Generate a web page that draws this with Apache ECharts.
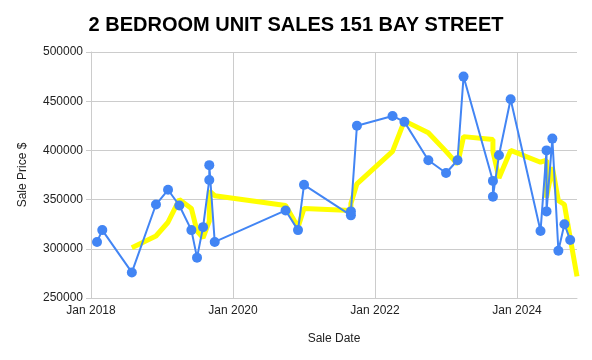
<!DOCTYPE html>
<html>
<head>
<meta charset="utf-8">
<script src="https://cdn.jsdelivr.net/npm/echarts@6/dist/echarts.min.js"></script>
<style>html,body{margin:0;padding:0;background:#fff}#c{width:592px;height:360px}</style>
</head>
<body>
<div id="c"></div>
<script>
const saleDates = ['2018-02-01','2018-02-28','2018-07-30','2018-12-01','2019-02-01','2019-03-31','2019-06-01','2019-06-30','2019-07-31','2019-09-01','2019-09-01','2019-09-29','2020-09-28','2020-12-01','2021-01-01','2021-08-30','2021-08-30','2021-09-30','2022-04-01','2022-06-01','2022-10-02','2023-01-01','2023-03-01','2023-04-01','2023-08-30','2023-08-30','2023-09-30','2023-11-29','2024-05-01','2024-06-01','2024-06-01','2024-07-01','2024-08-01','2024-09-01','2024-10-01'];
const salePrices = [307000,319000,276000,345000,360000,344000,319000,291000,322000,370000,385000,307000,339000,319000,365000,334000,338000,425000,435000,429000,390000,377000,390000,475000,369000,353000,395000,452000,318000,400000,338000,412000,298000,325000,309000];
const trendDates = ['2018-07-30','2018-12-01','2019-02-01','2019-03-31','2019-06-01','2019-06-30','2019-07-31','2019-09-01','2019-09-01','2019-09-29','2020-09-28','2020-12-01','2021-01-01','2021-08-30','2021-08-30','2021-09-30','2022-04-01','2022-06-01','2022-10-02','2023-01-01','2023-03-01','2023-04-01','2023-08-30','2023-08-30','2023-09-30','2023-11-29','2024-05-01','2024-06-01','2024-06-01','2024-07-01','2024-08-01','2024-09-01','2024-10-01','2024-11-05'];
const trendValues = [301000,313000,327000,350000,341000,318000,311000,328000,359000,354000,344000,322000,341000,339000,346000,366000,399000,430000,418000,399000,386000,414000,411000,399000,372000,400000,388000,390000,352000,383000,349000,345000,311000,272000];
const xTickLabels = ['Jan 2018','Jan 2020','Jan 2022','Jan 2024'];
const axisStart = '2018-01-01';
const axisEnd = '2024-11-05';

function toYear(s){
  const p = s.split('-').map(Number);
  const d = Date.UTC(p[0], p[1]-1, p[2]);
  const a = Date.UTC(p[0],0,1), b = Date.UTC(p[0]+1,0,1);
  return p[0] + (d-a)/(b-a);
}
const font = "'Liberation Sans', Arial, sans-serif";
const chart = echarts.init(document.getElementById('c'), null, {renderer:'canvas'});
chart.setOption({
  animation:false,
  backgroundColor:'#fff',
  title:{text:'2 BEDROOM UNIT SALES 151 BAY STREET', left:'center', top:10,
    textStyle:{fontFamily:font, fontSize:20, fontWeight:'bold', color:'#000'}},
  grid:{left:91, right:15, top:52, bottom:62},
  xAxis:{type:'value', min:toYear(axisStart), max:toYear(axisEnd), interval:2,
    name:'Sale Date', nameLocation:'middle', nameGap:35,
    nameTextStyle:{fontFamily:font, fontSize:12, color:'#222'},
    axisLine:{show:true, lineStyle:{color:'#ccc'}},
    axisTick:{show:false},
    axisLabel:{fontFamily:font, fontSize:12, color:'#222', margin:7, showMaxLabel:false,
      formatter:function(v){ const i = Math.round((v-2018)/2); return Math.abs(v-(2018+2*i))<1e-6 && xTickLabels[i] ? xTickLabels[i] : ''; }},
    splitLine:{show:true, showMaxLine:false, lineStyle:{color:'#ccc'}}
  },
  yAxis:{type:'value', min:250000, max:500000, interval:50000,
    name:'Sale Price $', nameLocation:'middle', nameGap:62,
    nameTextStyle:{fontFamily:font, fontSize:12, color:'#222'},
    axisLine:{show:true, lineStyle:{color:'#ccc'}},
    axisTick:{show:true, length:5, lineStyle:{color:'#ccc'}},
    axisLabel:{fontFamily:font, fontSize:12, color:'#222', margin:8, formatter:function(v){ return String(v); }},
    splitLine:{show:true, lineStyle:{color:'#ccc'}}
  },
  series:[
    {type:'line', name:'Trend', z:2, showSymbol:false, symbol:'none',
      data:trendDates.map((d,i)=>[toYear(d), trendValues[i]]),
      lineStyle:{color:'#FFFF00', width:5}, itemStyle:{color:'#FFFF00'}},
    {type:'line', name:'Sale Price', z:3, symbol:'circle', symbolSize:10,
      data:saleDates.map((d,i)=>[toYear(d), salePrices[i]]),
      lineStyle:{color:'#4285F4', width:2}, itemStyle:{color:'#4285F4'}}
  ]
});
</script>
</body>
</html>
